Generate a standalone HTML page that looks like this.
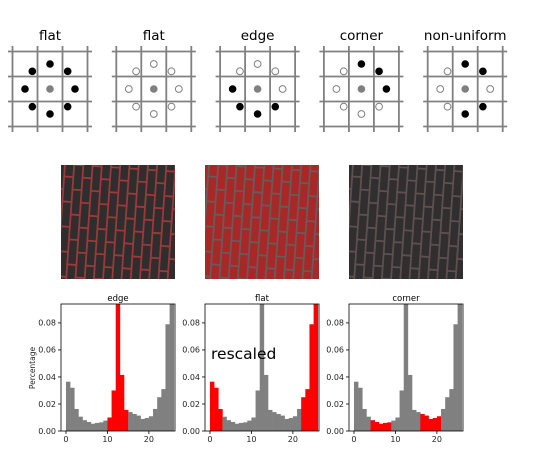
<!DOCTYPE html>
<html><head><meta charset="utf-8">
<style>
body{margin:0;background:#fff;font-family:"DejaVu Sans","Liberation Sans",sans-serif;}
svg{display:block}
</style></head>
<body>
<svg id="fig" width="533" height="466" viewBox="0 0 533 466" xmlns="http://www.w3.org/2000/svg">
</svg>
<script>
// ---- data ----
const patternTitles = ["flat","flat","edge","corner","non-uniform"];
// neighbors order: right, upper-right, top, upper-left, left, lower-left, bottom, lower-right (1 = black)
const patternBits = [
  [1,1,1,1,1,1,1,1],
  [0,0,0,0,0,0,0,0],
  [0,0,0,0,1,1,1,1],
  [1,1,1,0,0,0,0,0],
  [0,1,1,0,0,0,1,1]
];
const histTitles = ["edge","flat","corner"];
const binValues = [0.0365,0.032,0.0163,0.0106,0.008,0.0067,0.0054,0.006,0.0064,0.0077,0.010,0.030,0.15,0.0415,0.0156,0.014,0.0126,0.0114,0.0089,0.0096,0.0109,0.0163,0.025,0.031,0.079,0.15];
const highlightRanges = [[[10,15]],[[0,3],[22,26]],[[4,9],[16,21]]];
const yTicks = [0,0.02,0.04,0.06,0.08];
const yTickLabels = ["0.00","0.02","0.04","0.06","0.08"];
const xTicks = [0,10,20];
const xTickLabels = ["0","10","20"];

const NS="http://www.w3.org/2000/svg";
const fig=document.getElementById('fig');
function mk(tag,attrs,parent){const e=document.createElementNS(NS,tag);for(const k in attrs)e.setAttribute(k,attrs[k]);(parent||fig).appendChild(e);return e;}

// ---- top patterns ----
const pCenters=[50,153.8,257.6,361.4,465.2];
const pCy=89;
patternTitles.forEach((t,i)=>{
  const g=mk('g',{});
  
  
  const cx=pCenters[i];
  const tt=mk('text',{x:cx,y:40,'text-anchor':'middle','font-size':13.5,fill:'#000'},g);
  tt.textContent=t;
  
  
  for(let k=0;k<4;k++){
    const o=-37.5+k*25;
    mk('line',{x1:cx+o,x2:cx+o,y1:pCy-43,y2:pCy+43,stroke:'#808080','stroke-width':1.8},g);
    mk('line',{x1:cx-42,x2:cx+42,y1:pCy+o,y2:pCy+o,stroke:'#808080','stroke-width':1.8},g);
  }
  mk('circle',{cx:cx,cy:pCy,r:3.8,fill:'#808080'},g);
  patternBits[i].forEach((b,j)=>{
    const a=j*Math.PI/4;
    const x=cx+25*Math.cos(a), y=pCy-25*Math.sin(a);
    if(b) mk('circle',{cx:x,cy:y,r:3.8,fill:'#000'},g);
    else mk('circle',{cx:x,cy:y,r:3.4,fill:'#fff',stroke:'#808080','stroke-width':1},g);
  });
});

// ---- textures ----
const imgX=[61,205,349];
const imgStyles=[
  {brick:'#2f2d2d',mortar:'#9a3a3a'},
  {brick:'#a82828',mortar:'#6a5a5a'},
  {brick:'#302e2e',mortar:'#5e5050'}
];
imgX.forEach((x0,i)=>{
  const s=imgStyles[i];
  const g=mk('g',{});
  
  
  const cid='clip'+i;
  const cp=mk('clipPath',{id:cid},g);
  mk('rect',{x:x0,y:165,width:114,height:114},cp);
  const inner=mk('g',{'clip-path':'url(#'+cid+')'},g);
  mk('rect',{x:x0,y:165,width:114,height:114,fill:s.mortar},inner);
  const rg=mk('g',{transform:'rotate(4 '+(x0+57)+' 222)'},inner);
  const cw=9.2, bh=25;
  for(let c=-3;c<16;c++){
    const off=(c%2)*bh/2;
    for(let r=-2;r<7;r++){
      mk('rect',{x:x0+c*cw+1,y:155+r*bh+off+1.2,width:cw-1.8,height:bh-1.8,fill:s.brick},rg);
    }
  }
});

// ---- histograms ----
const axW=114, axTop=304, axBot=431;
const xmin=-1.2, xmax=26.3, ymax=0.094;
function sx(x0,v){return x0+(v-xmin)/(xmax-xmin)*axW;}
function sy(v){return axBot-v/ymax*(axBot-axTop);}
histTitles.forEach((t,i)=>{
  const x0=imgX[i];
  const g=mk('g',{});
  
  
  const cid='hclip'+i;
  const cp=mk('clipPath',{id:cid},g);
  mk('rect',{x:x0,y:axTop,width:axW,height:axBot-axTop},cp);
  const bars=mk('g',{'clip-path':'url(#'+cid+')'},g);
  binValues.forEach((v,b)=>{
    const red=highlightRanges[i].some(r=>b>=r[0]&&b<r[1]);
    const rect=mk('rect',{x:sx(x0,b),y:sy(v),width:sx(x0,b+1)-sx(x0,b)+0.3,height:axBot-sy(v),fill:red?'#ff0000':'#808080'},bars);
    
    
  });
  mk('rect',{x:x0,y:axTop,width:axW,height:axBot-axTop,fill:'none',stroke:'#000','stroke-width':0.8},g);
  const tt=mk('text',{x:x0+axW/2,y:axTop-3,'text-anchor':'middle','font-size':8.5,fill:'#000'},g);
  tt.textContent=t;
  
  
  yTicks.forEach((v,k)=>{
    const y=sy(v);
    mk('line',{x1:x0-3,x2:x0,y1:y,y2:y,stroke:'#000','stroke-width':0.8},g);
    const l=mk('text',{x:x0-5,y:y+2.8,'text-anchor':'end','font-size':8,fill:'#222'},g);
    l.textContent=yTickLabels[k];
    
    
  });
  xTicks.forEach((v,k)=>{
    const x=sx(x0,v);
    mk('line',{x1:x,x2:x,y1:axBot,y2:axBot+3,stroke:'#000','stroke-width':0.8},g);
    const l=mk('text',{x:x,y:axBot+11,'text-anchor':'middle','font-size':8,fill:'#222'},g);
    l.textContent=xTickLabels[k];
    
    
  });
});
const yl=mk('text',{x:0,y:0,transform:'translate(35,368) rotate(-90)','text-anchor':'middle','font-size':7.5,fill:'#222'});
yl.textContent='Percentage';


const rs=mk('text',{x:211,y:359,'font-size':15.5,fill:'#000'});
rs.textContent='rescaled';


</script>
</body></html>
